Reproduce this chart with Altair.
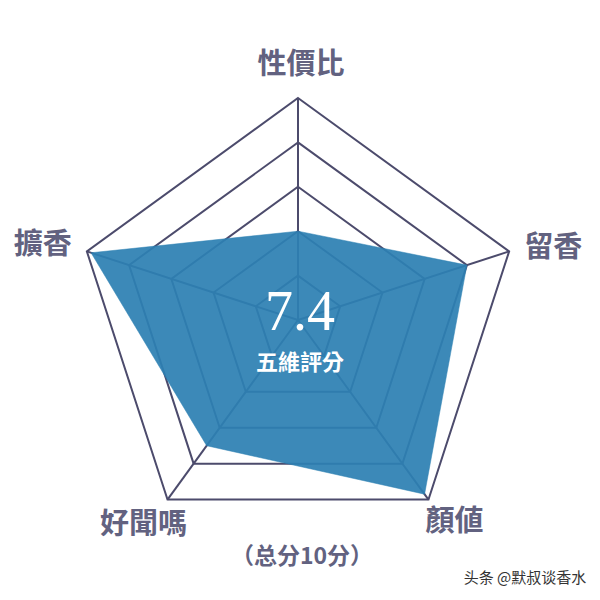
"""Five-dimension perfume score radar chart."""

import altair as alt
import pandas as pd

# data
CATEGORIES = ["性價比", "留香", "顏値", "好聞嗎", "擴香"]
SCORES = [4, 8, 9.7, 7, 9.8]
GRID_LEVELS = [2, 4, 6, 8, 10]
TOTAL_SCORE = "7.4"
SCORE_CAPTION = "五維評分"
FOOTNOTE = "（总分10分）"
WATERMARK = "头条 @默叔谈香水"

FILL_COLOR = "#2d80b3"
GRID_COLOR = "#4c4b6c"
LABEL_COLOR = "#626280"
CJK_FONT = "Noto Sans CJK TC"

# plot geometry in pixels (plot area = 584 x 584, page margin 8)
SIZE = 584
CENTER_X, CENTER_Y = 290, 312
PX_PER_UNIT = 22.2

X_DOMAIN = [-CENTER_X / PX_PER_UNIT, (SIZE - CENTER_X) / PX_PER_UNIT]
Y_DOMAIN = [-(SIZE - CENTER_Y) / PX_PER_UNIT, CENTER_Y / PX_PER_UNIT]

# label placement relative to the outer vertex: (align, dx, dy)
LABEL_STYLE = {
    "性價比": ("center", 3, -33),
    "留香": ("left", 15, -3),
    "顏値": ("center", 26, 22),
    "好聞嗎": ("center", -24, 25),
    "擴香": ("right", -15, -6),
}


def main():
    n_axes = len(CATEGORIES)
    scores = pd.DataFrame(
        {"category": CATEGORIES, "value": SCORES, "index": range(n_axes)}
    )
    grid = pd.DataFrame(
        [
            {"level": level, "index": i, "value": level}
            for level in GRID_LEVELS
            for i in range(n_axes)
        ]
    )
    spokes = pd.DataFrame(
        {"category": CATEGORIES, "index": range(n_axes), "value": max(GRID_LEVELS)}
    )

    x_scale = alt.Scale(domain=X_DOMAIN, nice=False, zero=False)
    y_scale = alt.Scale(domain=Y_DOMAIN, nice=False, zero=False)

    def to_xy(chart):
        return chart.transform_calculate(
            angle=f"datum.index * 2 * PI / {n_axes}"
        ).transform_calculate(
            px="datum.value * sin(datum.angle)",
            py="datum.value * cos(datum.angle)",
        )

    x_enc = alt.X("px:Q", scale=x_scale, axis=None)
    y_enc = alt.Y("py:Q", scale=y_scale, axis=None)

    rings = to_xy(alt.Chart(grid)).mark_line(
        interpolate="linear-closed", color=GRID_COLOR, strokeWidth=2
    ).encode(x=x_enc, y=y_enc, order="index:O", detail="level:N")

    spoke_lines = (
        to_xy(alt.Chart(spokes))
        .transform_calculate(zero="0")
        .mark_rule(color=GRID_COLOR, strokeWidth=2)
        .encode(x=alt.X("zero:Q", scale=x_scale, axis=None),
                y=alt.Y("zero:Q", scale=y_scale, axis=None),
                x2="px:Q", y2="py:Q")
    )

    area = to_xy(alt.Chart(scores)).mark_line(
        interpolate="linear-closed",
        fill=FILL_COLOR,
        fillOpacity=0.93,
        stroke=FILL_COLOR,
        strokeWidth=0.5,
    ).encode(x=x_enc, y=y_enc, order="index:O")

    labels = []
    for name in CATEGORIES:
        align, dx, dy = LABEL_STYLE[name]
        labels.append(
            to_xy(alt.Chart(spokes))
            .transform_filter(alt.datum.category == name)
            .mark_text(
                font=CJK_FONT, fontSize=29, fontWeight="bold", color=LABEL_COLOR,
                align=align, baseline="middle", dx=dx, dy=dy,
            )
            .encode(x=x_enc, y=y_enc, text="category:N")
        )

    center = alt.Chart(pd.DataFrame({"px": [0], "py": [0]}))
    score_text = center.mark_text(
        font="Liberation Serif", fontSize=56, color="white",
        baseline="middle", dy=-7, dx=2,
    ).encode(x=x_enc, y=y_enc, text=alt.value(TOTAL_SCORE))
    caption_text = center.mark_text(
        font=CJK_FONT, fontSize=22, fontWeight="bold", color="white",
        baseline="middle", dy=43, dx=2,
    ).encode(x=x_enc, y=y_enc, text=alt.value(SCORE_CAPTION))
    footnote_text = center.mark_text(
        font="Noto Sans CJK SC", fontSize=23, fontWeight="bold",
        color=LABEL_COLOR, baseline="middle", dy=237, dx=4,
    ).encode(x=x_enc, y=y_enc, text=alt.value(FOOTNOTE))
    watermark_text = center.mark_text(
        font="Noto Sans CJK SC", fontSize=15, color="#333333",
        baseline="middle", dy=258, dx=227,
    ).encode(x=x_enc, y=y_enc, text=alt.value(WATERMARK))

    chart = (
        alt.layer(
            rings, spoke_lines, area, *labels,
            score_text, caption_text, footnote_text, watermark_text,
        )
        .properties(
            width=SIZE, height=SIZE,
            autosize=alt.AutoSizeParams(type="none"), padding=0,
        )
        .configure_view(stroke=None)
    )
    chart.save("out.html", embed_options={"renderer": "svg", "actions": False})


if __name__ == "__main__":
    main()
